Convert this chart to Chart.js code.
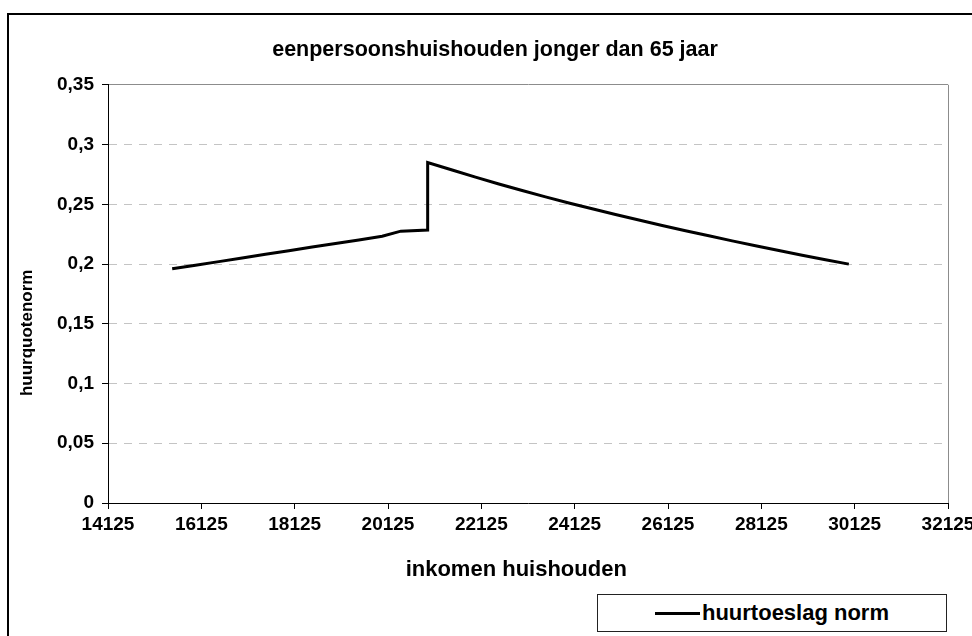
<!DOCTYPE html>
<html>
<head>
<meta charset="utf-8">
<script src="https://cdn.jsdelivr.net/npm/chart.js@4.4.1/dist/chart.umd.min.js"></script>
<style>
  html, body { margin: 0; padding: 0; background: #fff; overflow: hidden; }
  #wrap { position: relative; width: 972px; height: 636px; overflow: hidden; }
  #frame { position: absolute; left: 7px; top: 13px; width: 1000px; height: 700px; border: 2px solid #000; box-sizing: border-box; }
  #c { position: absolute; left: 0; top: 0; }
  #legend { position: absolute; left: 597px; top: 594px; width: 350px; height: 38px; border: 1px solid #222; box-sizing: border-box; background: #fff;
            display: flex; align-items: center; justify-content: center; font: bold 22px "Liberation Sans", Arial, sans-serif; color: #000; }
  #legend .swatch { display: inline-block; width: 45px; height: 3px; background: #000; margin-right: 2px; }
</style>
</head>
<body>
<div id="wrap">
  <div id="frame"></div>
  <canvas id="c" width="972" height="636"></canvas>
  <div id="legend"></div>
</div>
<script>
// ---- data ----
const chartTitle = 'eenpersoonshuishouden jonger dan 65 jaar';
const xTitle = 'inkomen huishouden';
const yTitle = 'huurquotenorm';
const seriesLabel = 'huurtoeslag norm';

const income = [15500, 16000, 16500, 17000, 17500, 18000, 18500, 19000, 19500, 20000, 20400, 20975,
                20975, 21500, 22000, 22500, 23000, 23500, 24000, 24500, 25000, 25500, 26000, 26500,
                27000, 27500, 28000, 28500, 29000, 29500, 30000];
const norm = [0.1960, 0.1990, 0.2020, 0.2051, 0.2081, 0.2111, 0.2142, 0.2172, 0.2202, 0.2232, 0.2275, 0.2285,
              0.2850, 0.2787, 0.2727, 0.2670, 0.2615, 0.2562, 0.2511, 0.2462, 0.2414, 0.2368, 0.2323, 0.2279,
              0.2236, 0.2194, 0.2153, 0.2113, 0.2074, 0.2036, 0.1999];

const xTicks = [14125, 16125, 18125, 20125, 22125, 24125, 26125, 28125, 30125, 32125];
const yTicks = [0, 0.05, 0.1, 0.15, 0.2, 0.25, 0.3, 0.35];

// ---- chart ----
const FONT = '"Liberation Sans", Arial, Helvetica, sans-serif';
Chart.defaults.font.family = FONT;
Chart.defaults.color = '#000';

const points = income.map((x, i) => ({ x: x, y: norm[i] }));

const titleShift = {
  id: 'titleShift',
  afterLayout(chart) { if (chart.titleBlock) { chart.titleBlock.left = 42; } }
};

const axisTitles = {
  id: 'axisTitles',
  afterDraw(chart) {
    const { ctx, chartArea: a } = chart;
    ctx.save();
    ctx.fillStyle = '#000';
    ctx.textAlign = 'center';
    ctx.textBaseline = 'middle';
    ctx.font = 'bold 22px ' + FONT;
    ctx.fillText(xTitle, a.left + a.width * 0.486, a.bottom + 67);
    ctx.translate(27, a.top + a.height * 0.593);
    ctx.rotate(-Math.PI / 2);
    ctx.font = 'bold 17px ' + FONT;
    ctx.fillText(yTitle, 0, 0);
    ctx.restore();
  }
};

const htmlLegend = {
  id: 'htmlLegend',
  afterUpdate(chart) {
    const box = document.getElementById('legend');
    box.innerHTML = '';
    chart.data.datasets.forEach(ds => {
      const sw = document.createElement('span');
      sw.className = 'swatch';
      sw.style.background = ds.borderColor;
      const tx = document.createElement('span');
      tx.textContent = ds.label;
      box.appendChild(sw);
      box.appendChild(tx);
    });
  }
};

new Chart(document.getElementById('c'), {
  type: 'scatter',
  data: {
    datasets: [{
      label: seriesLabel,
      data: points,
      showLine: true,
      borderColor: '#000',
      backgroundColor: '#000',
      borderWidth: 3,
      pointRadius: 0,
      pointHoverRadius: 0,
      tension: 0,
      fill: false
    }]
  },
  options: {
    responsive: false,
    animation: false,
    events: [],
    layout: { padding: { left: 0, right: 24, top: 0, bottom: 0 } },
    plugins: {
      legend: { display: false },
      tooltip: { enabled: false },
      title: {
        display: true,
        text: chartTitle,
        color: '#000',
        font: { size: 21.5, weight: 'bold' },
        padding: { top: 37, bottom: 22 }
      }
    },
    scales: {
      x: {
        type: 'linear',
        min: xTicks[0],
        max: xTicks[xTicks.length - 1],
        afterBuildTicks: s => { s.ticks = xTicks.map(v => ({ value: v })); },
        afterFit: s => { s.height = 133; s.paddingLeft = 0; s.paddingRight = 0; },
        ticks: {
          color: '#000',
          font: { size: 19, weight: 'bold' },
          padding: 4,
          maxRotation: 0,
          autoSkip: false,
          callback: v => String(v)
        },
        grid: {
          drawOnChartArea: true,
          color: ctx => (ctx.index === xTicks.length - 1 ? '#8c8c8c' : 'rgba(0,0,0,0)'),
          tickColor: '#000',
          tickLength: 6,
          lineWidth: 1
        },
        border: { color: '#000', width: 1 }
      },
      y: {
        type: 'linear',
        min: yTicks[0],
        max: yTicks[yTicks.length - 1],
        afterBuildTicks: s => { s.ticks = yTicks.map(v => ({ value: v })); },
        afterFit: s => { s.width = 108; },
        ticks: {
          color: '#000',
          font: { size: 19, weight: 'bold' },
          padding: 8,
          callback: v => String(Math.round(v * 100) / 100).replace('.', ',')
        },
        grid: {
          color: ctx => (ctx.index === yTicks.length - 1 ? '#8c8c8c' : '#c4c4c4'),
          tickColor: '#000',
          tickLength: 6,
          lineWidth: 1
        },
        border: {
          color: '#000',
          width: 1,
          dash: ctx => (ctx.index === yTicks.length - 1 || ctx.index === 0 ? [] : [8, 7])
        }
      }
    }
  },
  plugins: [titleShift, axisTitles, htmlLegend]
});
</script>
</body>
</html>
